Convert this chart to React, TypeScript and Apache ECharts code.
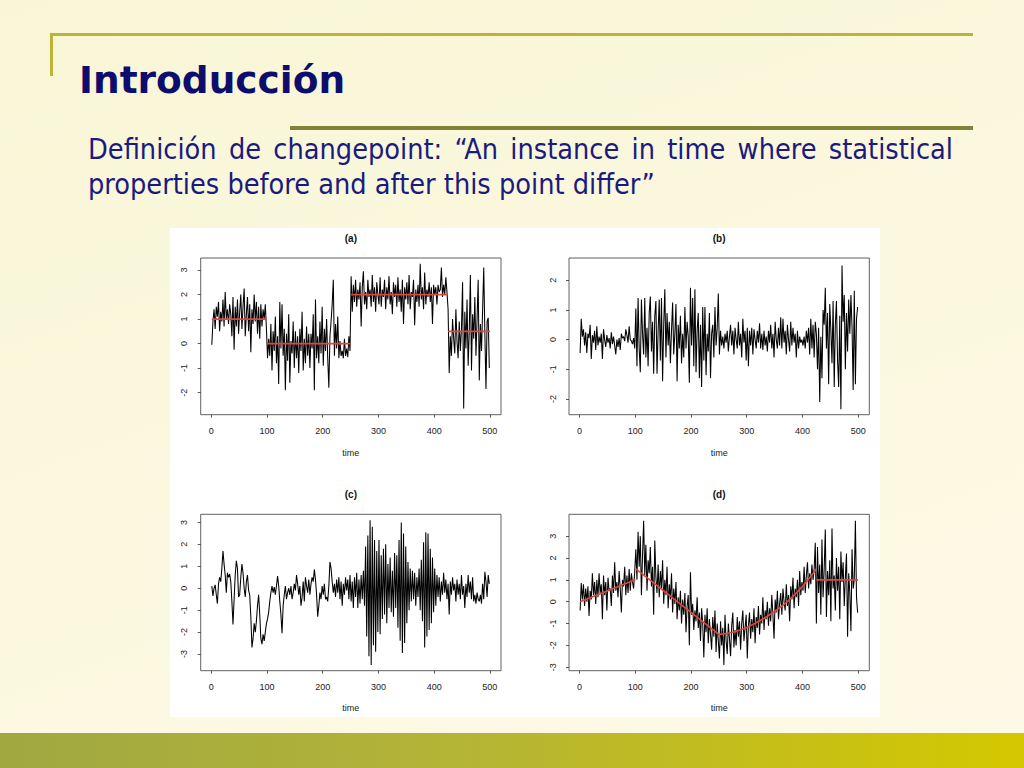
import React, { useEffect, useRef } from "react";
import * as echarts from "echarts";

// ---------- axis ticks ----------
const timeTicks = [0, 100, 200, 300, 400, 500];
const yTicksA = [-2, -1, 0, 1, 2, 3];
const yTicksB = [-2, -1, 0, 1, 2];
const yTicksC = [-3, -2, -1, 0, 1, 2, 3];
const yTicksD = [-3, -2, -1, 0, 1, 2, 3];
const panelTitles = ["(a)", "(b)", "(c)", "(d)"];

// ---------- panel (a): mean changes ----------
const seriesA = [
  -0.05, 0.9, 1.4, 0.6, 1.5, 1.1, 1.7, 0.5, 1.3, 0.9,
  1.8, 0.7, 2.1, 1.0, 1.4, 0.8, 1.6, 1.2, 0.3, 1.9,
  -0.25, 1.5, 0.7, 1.8, 0.4, 1.3, 2.0, 0.6, 1.5, 2.25,
  0.3, 1.2, 1.9, 0.5, 1.6, -0.35, 1.4, 0.8, 2.0, 0.9,
  1.7, 0.4, 1.5, 0.2, 1.6, 0.7, 1.4, 1.0, 1.6, 0.6,
  -0.6, 0.2, -0.5, 0.8, -1.1, 0.5, -0.3, 1.1, -0.8, 0.3,
  -1.65, 1.7, -0.2, 1.6, -0.5, 0.6, -1.9, 0.4, -0.7, 1.2,
  -1.6, 0.1, -0.4, 0.9, -1.0, 0.5, -0.6, 0.3, -1.2, 0.6,
  -0.3, 1.3, -1.1, 0.2, -0.8, 0.7, -0.5, 0.4, -1.0, 0.4,
  -0.2, 1.2, -1.9, 1.8, -0.6, 0.3, -0.8, 0.9, -0.4, 1.5,
  -0.9, 0.6, -0.3, 1.0, -0.6, -1.8, 0.3, 0.9, 1.6, 2.6,
  -0.5, 0.8, -0.2, 1.1, -0.6, 0.1, -0.5, -0.3, -0.6, 0.2,
  -0.5, -0.2, -0.55, 0.3, -0.3,
  2.75, 1.3, 2.4, 1.7, 2.6, 1.5, 2.2, 1.8, 2.5, 0.7,
  2.3, 2.95, 1.6, 2.1, 1.4, 2.6, 1.9, 2.2, 1.5, 2.8,
  1.7, 2.3, 1.3, 2.5, 2.0, 1.6, 2.7, 1.5, 2.2, 1.9,
  2.6, 1.4, 2.3, 1.8, 2.75, 1.6, 2.1, 1.2, 2.5, 1.9,
  2.4, 1.5, 2.7, 1.7, 2.2, 1.3, 2.6, 0.8, 2.3, 1.8,
  2.5, 1.6, 2.8, 1.4, 2.1, 1.9, 2.6, 0.75, 2.2, 1.7,
  2.4, 1.5, 3.25, 1.8, 2.3, 1.4, 2.9, 1.6, 2.2, 1.9,
  2.5, 1.7, 2.3, 0.8, 2.4, 2.0, 2.3, 1.6, 2.4, 2.1,
  2.2, 3.1, 1.9, 2.4, 2.0, 2.7, 2.1,
  1.4, -1.2, 0.3, -0.5, 1.0, 0.2, -0.4, 1.4, 0.1, -0.6,
  0.9, -0.3, 0.6, 2.5, -2.65, 1.3, -0.2, 1.8, -0.9, 0.5,
  2.8, -1.1, 1.2, 0.2, 1.9, -0.5, 1.0, 2.6, -1.5, 0.8,
  -0.3, 1.4, 3.1, 0.4, -1.85, 0.9, 1.05, -1.0,
];
const segStartA = [1, 101, 251, 425];
const segEndA = [100, 250, 424, 500];
const segMeanA = [1, 0, 2, 0.5];

// ---------- panel (b): variance changes ----------
const seriesB = [
  -0.45, 0.7, 0.1, 0.35, -0.2, 0.25, -0.45, 0.2, 0.05, 0.5,
  -0.65, 0.15, -0.1, 0.3, -0.35, 0.45, -0.2, 0.1, -0.1, 0.2,
  -0.65, 0.35, 0.0, -0.25, 0.15, -0.1, 0.05, -0.3, 0.25, -0.15,
  0.1, -0.2, -0.5, 0.0, -0.25, 0.05, -0.35, 0.2, 0.05, 0.1,
  -0.05, 0.35, 0.15, -0.1, 0.45, 0.0, -0.05, -0.15, 0.05, -0.3,
  1.05, -0.9, 1.4, -0.3, -1.1, 1.35, 0.2, -0.5, 1.4, -0.6,
  0.4, -0.9, 0.9, 1.45, -0.4, 0.6, -1.15, 0.8, 1.3, -1.15,
  0.3, 1.35, -0.7, 1.4, -1.4, 0.5, 1.7, -0.6, 0.9, -0.2,
  0.6, -0.8, 0.3, 1.25, -0.5, 0.2, 1.2, -1.4, 0.5, -0.3,
  0.8, -0.8, 0.2, -0.6, 1.1, -0.3, 0.6, 0.1, -1.45, 1.75,
  -0.2, 1.4, -0.9, 1.7, -1.1, 0.3, 0.9, -1.3, 0.5, -1.6,
  1.1, -0.7, 1.1, -1.2, 0.2, -0.4, 0.9, -1.3, 0.2, 0.5,
  -0.6, 1.1, -0.2, 0.4, 1.55, -0.5, 0.3, -0.2, 0.1, -0.3,
  0.2, -0.1, 0.3, -0.4, 0.1, 0.5, -0.2, 0.3, -0.5, 0.4,
  0.0, -0.3, 0.6, -0.2, 0.2, -0.6, 0.7, -0.1, 0.3, -0.7,
  0.4, -0.9, 0.3, -0.2, 0.4, -0.5, 0.35, 0.0, -0.3, 0.3,
  -0.1, 0.55, -0.3, 0.2, -0.35, 0.3, -0.2, 0.1, -0.4, 0.3,
  -0.1, 0.5, -0.3, 0.2, -0.6, 0.6, 0.0, -0.3, 0.4, -0.2,
  0.75, -0.3, 0.7, -0.1, 0.3, -0.5, 0.5, 0.0, -0.4, 0.6,
  -0.2, 0.4, -0.1, 0.2, -0.6, 0.3, -0.3, 0.1, -0.1, 0.0,
  -0.2, 0.1, -0.3, 0.3, -0.1, 0.4, -0.5, 0.7, -0.3, 0.5,
  -0.6, 0.6, 0.2, -1.0, 0.4, -2.1, 0.1, -1.3, 1.0, 0.5,
  1.75, -0.3, 0.9, -1.5, 1.2, 0.3, -0.8, 1.3, -1.6, 0.5,
  1.3, -0.7, -1.6, 0.8, -2.35, 2.5, 0.6, 1.5, -1.0, 0.9,
  -0.4, 1.35, 0.2, 1.5, 0.4, -1.7, 1.65, -1.5, 0.7, 1.1,
];

// ---------- panel (c): autocorrelated / variance bursts ----------
const seriesC = [
  0.1, -0.35, 0.0, 0.15, -0.3, -0.7, 0.2, 0.5, 0.3, 0.9,
  1.7, 1.1, 0.6, -0.2, 0.7, 0.5, 0.65, 0.3, -0.6, -1.65,
  -0.5, 0.6, 1.25, 0.9, -0.4, -0.3, 0.5, 1.1, 0.7, 0.0,
  -0.4, 0.3, 0.6, -0.1, -0.3, -1.3, -2.7, -2.3, -1.6, -2.0,
  -1.5, -0.8, -0.3, -1.2, -2.3, -2.55, -2.1, -2.4, -2.0, -1.6,
  -1.4, -1.1, -0.6, -0.2, 0.1, -0.2, 0.05, -0.3, 0.1, 0.55,
  0.1, -0.6, -1.2, -2.05, -0.8, -0.3, 0.1, -0.5, -0.2, 0.0,
  -0.3, 0.1, -0.5, -0.2, 0.2, -0.1, 0.6, 0.2, -0.3, 0.1,
  -0.8, -0.4, 0.3, -0.6, 0.5, 0.1, -0.2, 0.4, -0.3, 0.2,
  0.5, 0.3, 0.85, 0.4, -0.3, -1.3, -0.8, -0.2, -0.5, 0.1,
  -0.3, 0.2, -0.5, -0.4, -0.6, 0.1, 1.2, 0.9, 0.3, -0.2,
  0.2, -0.4, 0.4, -0.2, 0.5, -0.5, 0.3, -0.8, 0.2, -0.3,
  0.5, -0.1, 0.4, -0.5, 0.6, -0.6, 0.3, -0.9, 0.5, -0.4,
  0.7, -0.9, 0.4, -0.7, 0.6, -0.5, 0.8, -0.8, 1.9, -2.2,
  2.4, -3.1, 3.1, -3.5, 2.8, -2.6, 2.2, -2.9, 1.7, -2.0,
  2.2, -2.1, 1.5, -1.4, 1.8, -1.2, 2.0, -1.6, 1.1, -0.9,
  1.4, -1.1, 0.8, -1.3, 1.6, -0.9, 1.5, -1.8, 2.2, -2.4,
  3.0, -2.95, 2.5, -2.5, 1.9, -1.6, 1.2, -1.0, 0.9, -0.6,
  0.8, -0.5, 0.7, -0.8, 0.5, -0.4, 0.9, -1.0, 1.3, -1.5,
  2.1, -2.7, 2.55, -2.2, 2.5, -1.9, 1.8, -1.6, 1.4, -1.1,
  0.9, -0.8, 0.6, -0.4, 0.5, -0.6, 0.3, -0.3, 0.7, -0.2,
  0.4, -0.5, 0.2, -1.2, 0.3, -0.3, 0.5, -0.1, 0.2, -0.6,
  0.4, -0.3, 0.2, -0.5, 0.6, -0.3, 0.1, -0.9, 0.2, -0.4,
  0.6, -0.2, 0.3, -0.5, 0.5, -0.6, -0.3, -0.7, -0.2, -0.5,
  -0.6, -0.3, -0.7, 0.2, -0.5, 0.75, 0.3, -0.4, 0.6, 0.2,
];

// ---------- panel (d): trend changes ----------
const seriesD = [
  -0.4, 0.85, 0.1, 0.8, -0.2, 0.6, 0.0, 0.7, -0.65, 0.5,
  0.1, 1.3, 0.3, 0.9, -0.1, 1.0, 0.2, 1.3, 0.4, 0.8,
  -0.8, 1.2, 0.3, 0.9, -0.4, 1.1, 0.5, 0.6, -0.2, 1.2,
  0.4, 1.8, 0.5, 0.9, 0.2, 1.4, 0.6, -0.5, 1.0, 0.7,
  1.6, 0.3, 1.2, 0.4, 1.5, 0.5, 1.3, 0.9, 0.6, 1.4,
  2.4, 1.0, 3.2, 1.6, 3.0, 0.3, 2.1, 3.7, 1.2, 2.6,
  0.5, 1.9, 1.3, 2.5, 0.7, 1.6, -0.6, 2.8, 1.1, 0.4,
  1.7, 0.2, 1.4, 0.6, 1.9, -0.1, 1.0, 0.3, 1.6, -0.3,
  0.8, 0.1, 1.3, -0.5, 0.6, -0.1, 0.9, -0.8, 0.2, -0.4,
  0.5, -1.0, 0.1, -0.6, 0.4, -1.4, -0.2, 0.3, -2.0, 1.35,
  -0.6, -0.1, -1.3, -0.4, -0.9, 0.2, -1.2, -0.5, -1.8, -0.3,
  -1.0, -2.55, -0.6, -1.4, -0.3, -1.9, -0.8, -1.5, -2.2, -0.7,
  -1.6, -0.4, -2.3, -1.0, -1.8,
  -2.6, -0.9, -2.0, -1.2, -2.9,
  -0.6, -1.8, -2.4, -1.0, -1.7, -2.5, -1.1, -0.5, -2.1, -1.3,
  -2.0, -0.7, -1.6, -0.9, -2.2, -1.0, -0.4, -1.8, -1.2, -0.6,
  -2.6, -1.1, -0.5, -1.7, -0.8, -1.4, -0.3, -1.9, -0.7, -1.2,
  -0.2, -1.5, -0.6, -1.0, 0.2, -1.3, -0.4, -0.8, 0.0, -1.1,
  -0.3, -0.9, 0.3, -0.6, -1.7, 0.1, -0.5, 0.5, -0.8, -0.1,
  0.4, -0.6, 0.6, 0.0, -0.4, 0.8, -0.2, 0.3, -0.9, 0.7,
  0.1, 1.1, -0.3, 0.6, 0.2, 1.0, -0.2, 1.4, 0.3, 0.9,
  0.5, 1.6, 0.4, 1.2, 1.8, 0.6, 1.3, 0.8, 1.7, 1.0,
  1.5, 2.7,
  -1.0, 2.5, 0.4, 1.7, -0.6, 2.85, 0.2, 1.5,
  3.3, -0.7, 1.4, 0.3, 1.9, -0.9, 3.35, 0.6, 1.2, -0.4,
  2.0, 0.5, 1.6, -0.8, 2.3, 0.9, 1.8, -0.2, 1.1, 2.2,
  -1.6, 1.3, 0.4, -1.35, 2.4, 0.6, 1.0, 3.7, 0.2, -0.5,
];
const trendXD1 = [1, 100];
const trendYD1 = [0, 1];
const trendXD2 = [101, 250];
const trendYD2 = [1.5, -1.5];
const trendXD3 = [250, 275, 300, 325, 350, 375, 400, 425];
const trendYD3 = [-1.5, -1.4, -1.18, -0.85, -0.45, 0.05, 0.7, 1.5];
const trendXD4 = [425, 500];
const trendYD4 = [1, 1];

// ---------- layout (px inside the figure image) ----------
const FIG_W = 710;
const FIG_H = 489;
const gridsPos = [
  { left: 30.7, top: 30, width: 300.3, height: 156.7 },
  { left: 399, top: 30, width: 300.3, height: 156.7 },
  { left: 30.7, top: 286.3, width: 300.3, height: 156.4 },
  { left: 399, top: 286.3, width: 300.3, height: 156.4 },
];
const yRanges = [
  [-2.9, 3.49],
  [-2.53, 2.75],
  [-3.76, 3.37],
  [-3.16, 4.0],
];
const xRange = [-18.96, 519.96];
const R_FONT = "'Liberation Sans', Arial, Helvetica, sans-serif";

const toPairs = (ys: number[]) => ys.map((y, i) => [2 * i + 1, y]);
const zipXY = (xs: number[], ys: number[]) => xs.map((x, i) => [x, ys[i]]);

function buildOption() {
  const yTicks = [yTicksA, yTicksB, yTicksC, yTicksD];
  const data = [seriesA, seriesB, seriesC, seriesD];
  const grid = gridsPos.map((g) => ({
    ...g,
    show: true,
    borderColor: "#3a3a3a",
    borderWidth: 0.8,
    containLabel: false,
    outerBoundsMode: "none",
  }));
  const xAxis = gridsPos.map((_, i) => ({
    type: "value",
    gridIndex: i,
    position: "bottom",
    min: xRange[0],
    max: xRange[1],
    axisLine: { show: false, onZero: false },
    splitLine: { show: false },
    axisTick: {
      show: true,
      customValues: timeTicks,
      length: 3,
      lineStyle: { color: "#333", width: 0.8 },
    },
    axisLabel: {
      customValues: timeTicks,
      fontSize: 9,
      color: "#222",
      margin: 12,
      fontFamily: R_FONT,
    },
    name: "time",
    nameLocation: "middle",
    nameGap: i < 2 ? 34 : 33,
    nameTextStyle: { fontSize: 9, color: "#222", fontFamily: R_FONT },
  }));
  const yAxis = gridsPos.map((_, i) => ({
    type: "value",
    gridIndex: i,
    position: "left",
    min: yRanges[i][0],
    max: yRanges[i][1],
    axisLine: { show: false, onZero: false },
    splitLine: { show: false },
    axisTick: {
      show: true,
      customValues: yTicks[i],
      length: 3,
      lineStyle: { color: "#333", width: 0.8 },
    },
    axisLabel: {
      customValues: yTicks[i],
      rotate: 90,
      fontSize: 9,
      color: "#222",
      margin: 12,
      fontFamily: R_FONT,
    },
  }));
  const series: any[] = data.map((ys, i) => ({
    type: "line",
    xAxisIndex: i,
    yAxisIndex: i,
    data: toPairs(ys),
    symbol: "none",
    showSymbol: false,
    silent: true,
    lineStyle: { color: "#000", width: 1.05 },
    z: 2,
  }));
  const red = { color: "#e2453b", width: 1.7 };
  segMeanA.forEach((m, k) => {
    series.push({
      type: "line",
      xAxisIndex: 0,
      yAxisIndex: 0,
      data: [
        [segStartA[k], m],
        [segEndA[k], m],
      ],
      symbol: "none",
      silent: true,
      lineStyle: red,
      z: 3,
    });
  });
  [
    [trendXD1, trendYD1],
    [trendXD2, trendYD2],
    [trendXD3, trendYD3],
    [trendXD4, trendYD4],
  ].forEach(([xs, ys], k) => {
    series.push({
      type: "line",
      xAxisIndex: 3,
      yAxisIndex: 3,
      data: zipXY(xs, ys),
      symbol: "none",
      smooth: k === 2 ? 0.4 : false,
      silent: true,
      lineStyle: red,
      z: 3,
    });
  });
  const graphic = gridsPos.map((g, i) => ({
    type: "text",
    x: g.left + g.width / 2,
    y: g.top - 20,
    style: {
      text: panelTitles[i],
      font: `bold 10px ${R_FONT}`,
      fill: "#111",
      textAlign: "center",
      textVerticalAlign: "middle",
    },
  }));
  return {
    animation: false,
    backgroundColor: "#ffffff",
    grid,
    xAxis,
    yAxis,
    series,
    graphic,
  };
}

function Figure() {
  const ref = useRef<HTMLDivElement>(null);
  useEffect(() => {
    if (!ref.current) return;
    const chart = echarts.init(ref.current, undefined, { renderer: "svg" });
    chart.setOption(buildOption() as any);
    return () => chart.dispose();
  }, []);
  return (
    <div
      ref={ref}
      style={{
        position: "absolute",
        left: 170,
        top: 228,
        width: FIG_W,
        height: FIG_H,
        background: "#fff",
      }}
    />
  );
}

const TITLE = "Introducción";
const LINE1 = "Definición de changepoint: \u201CAn instance in time where statistical";
const LINE2 = "properties before and after this point differ\u201D";

export default function App() {
  const txtFont = "'DejaVu Sans Condensed', 'DejaVu Sans', Tahoma, sans-serif";
  return (
    <div
      style={{
        position: "absolute",
        left: 0,
        top: 0,
        width: 1024,
        height: 768,
        overflow: "hidden",
        background: "linear-gradient(160deg, #f8f6d6 0%, #fbf8df 50%, #fef9e6 100%)",
      }}
    >
      <div style={{ position: "absolute", left: 50, top: 33, width: 923, height: 3, background: "#bcb437" }} />
      <div style={{ position: "absolute", left: 50, top: 33, width: 3, height: 43, background: "#bcb437" }} />
      <div
        style={{
          position: "absolute",
          left: 79,
          top: 56,
          fontFamily: "'DejaVu Sans', Tahoma, sans-serif",
          fontWeight: "bold",
          fontSize: 37.5,
          lineHeight: "48px",
          color: "#0d0d6e",
          whiteSpace: "nowrap",
        }}
      >
        {TITLE}
      </div>
      <div style={{ position: "absolute", left: 290, top: 126, width: 683, height: 4, background: "#818237" }} />
      <div
        style={{
          position: "absolute",
          left: 88,
          top: 132,
          width: 865,
          fontFamily: txtFont,
          fontSize: 28.6,
          lineHeight: "35px",
          color: "#1a1a80",
        }}
      >
        <div style={{ textAlign: "justify", textAlignLast: "justify" }}>{LINE1}</div>
        <div style={{ whiteSpace: "nowrap" }}>{LINE2}</div>
      </div>
      <Figure />
      <div
        style={{
          position: "absolute",
          left: 0,
          top: 733,
          width: 1024,
          height: 35,
          background: "linear-gradient(90deg, #a0a841 0%, #b4b436 45%, #d4c800 100%)",
        }}
      />
    </div>
  );
}
